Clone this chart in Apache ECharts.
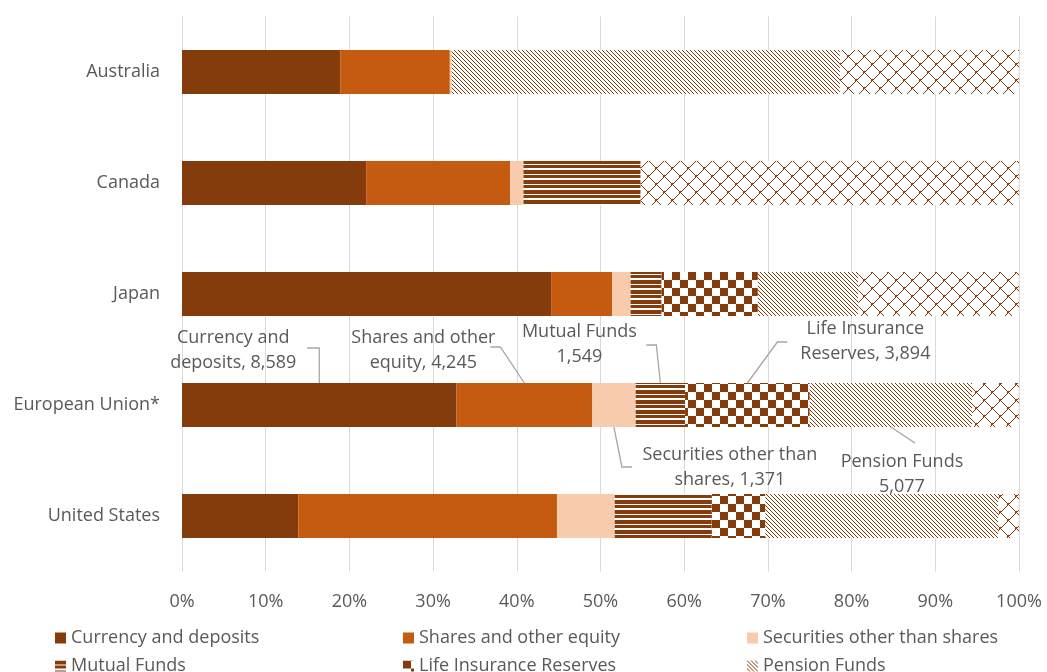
<!DOCTYPE html>
<html><head><meta charset="utf-8">
<script src="https://cdn.jsdelivr.net/npm/echarts@6/dist/echarts.min.js"></script>
<style>html,body{margin:0;padding:0;background:#fff}#c{width:1047px;height:672px}</style>
</head><body><div id="c"></div>
<script>
// ---- data (percent of each country's total household financial assets) ----
const categories = ['Australia', 'Canada', 'Japan', 'European Union*', 'United States'];
const seriesNames = ['Currency and deposits', 'Shares and other equity', 'Securities other than shares',
  'Mutual Funds', 'Life Insurance Reserves', 'Pension Funds', 'Other'];
const currency   = [18.9, 22.0, 44.1, 32.8, 13.9];
const shares     = [13.1, 17.2, 7.3, 16.2, 30.9];
const securities = [0.2, 1.6, 2.2, 5.2, 6.9];
const mutual     = [0, 14.0, 3.7, 5.9, 11.6];
const lifeIns    = [0, 0, 11.5, 14.9, 6.4];
const pension    = [46.4, 0, 12.0, 19.4, 27.8];
const other      = [21.4, 45.2, 19.2, 5.6, 2.5];
const xTicks = [0, 10, 20, 30, 40, 50, 60, 70, 80, 90, 100];
// labels for the European Union* bar (billions)
const euLabels = ['Currency and\ndeposits, 8,589', 'Shares and other\nequity, 4,245', 'Securities other than\nshares, 1,371',
  'Mutual Funds\n1,549', 'Life Insurance\nReserves, 3,894', 'Pension Funds\n5,077', ''];
const labelCategory = 'European Union*';

// ---- patterns ----
const BROWN = '#843C0C';
function tile(w, h, draw) {
  const c = document.createElement('canvas'); c.width = w; c.height = h;
  const g = c.getContext('2d'); g.fillStyle = '#fff'; g.fillRect(0, 0, w, h);
  g.fillStyle = BROWN; draw(g); return { image: c, repeat: 'repeat' };
}
const patMutual = tile(4, 10, g => { g.fillRect(0, 0, 4, 4); g.fillRect(0, 5, 4, 3); });
const patLife = tile(16, 16, g => { g.fillRect(0, 0, 8, 8); g.fillRect(8, 8, 8, 8); });
const patPension = tile(8, 8, g => {
  for (let i = 0; i < 8; i++) { g.fillRect(i, i, 1, 1); g.fillRect((i + 4) % 8, i, 1, 1); }
});
const patOther = tile(16, 16, g => {
  for (let x = 0; x < 16; x++) for (let y = 0; y < 16; y++) {
    if (Math.abs(x - 8) + Math.abs(y - 8) === 8) g.fillRect(x, y, 1, 1);
  }
  g.fillRect(0, 7, 1, 2); g.fillRect(15, 7, 1, 2); g.fillRect(7, 0, 2, 1); g.fillRect(7, 15, 2, 1);
});

const colors = ['#843C0C', '#C55A11', '#F8CBAD', patMutual, patLife, patPension, patOther];
const values = [currency, shares, securities, mutual, lifeIns, pension, other];

// label placement relative to the bar segment (anchor top 't' or bottom 'b'): label centre offset and leader line offsets
const labelCfg = [
  { side: 't', c: [-86, -33], pts: [[0, -35], [-12, -35]] },
  { side: 't', c: [-101, -33], pts: [[-24, -36], [-34, -36]] },
  { side: 'b', c: [116, 40], pts: [[8, 40], [18, 40]] },
  { side: 't', c: [-81, -39], pts: [[-4, -38], [-14, -38]] },
  { side: 't', c: [118, -42], pts: [[30, -41], [40, -41]] },
  { side: 'b', c: [11, 47], pts: [[24, 16]] },
  null
];
const BAR_W = 44;
const FONT = '"Open Sans", "Noto Sans", sans-serif';
const TXT = '#595959';
const euIdx = categories.indexOf(labelCategory);

const series = seriesNames.map((name, si) => ({
  name, type: 'bar', stack: 'total', barWidth: BAR_W,
  itemStyle: { color: colors[si] },
  emphasis: { disabled: true },
  data: values[si].map((v, di) => {
    const item = { value: v };
    if (di === euIdx && euLabels[si]) {
      item.label = { show: true, formatter: euLabels[si], fontFamily: FONT, fontSize: 18, lineHeight: 25, color: TXT, align: 'center' };
    }
    return item;
  }),
  labelLine: { show: false },
  labelLayout: function (p) {
    const cfg = labelCfg[si];
    if (!cfg || p.dataIndex !== euIdx) return {};
    const ax = p.rect.x + p.rect.width / 2;
    const ay = cfg.side === 't' ? p.rect.y : p.rect.y + p.rect.height;
    return { x: ax + cfg.c[0], y: ay + cfg.c[1], align: 'center', verticalAlign: 'middle' };
  }
}));

const legendBase = {
  orient: 'vertical', icon: 'rect', itemWidth: 11, itemHeight: 11, itemGap: 10, height: 120,
  textStyle: { fontFamily: FONT, fontSize: 18, color: TXT, lineHeight: 16 }, top: 624, selectedMode: false
};
const option = {
  animation: false,
  grid: { left: 182, right: 28, top: 16.5, height: 555, containLabel: false },
  xAxis: {
    type: 'value', min: 0, max: 100, interval: 10,
    axisLine: { show: false }, axisTick: { show: false },
    splitLine: { lineStyle: { color: '#d9d9d9', width: 1 } },
    axisLabel: { formatter: v => xTicks.includes(v) ? v + '%' : '', fontFamily: FONT, fontSize: 18, color: TXT, margin: 21 }
  },
  yAxis: {
    type: 'category', data: categories, inverse: true,
    axisLine: { show: true, lineStyle: { color: '#d9d9d9' } }, axisTick: { show: false },
    axisLabel: { fontFamily: FONT, fontSize: 18, color: TXT, margin: 22 }
  },
  legend: [
    Object.assign({}, legendBase, { left: 50, data: [seriesNames[0], seriesNames[3], seriesNames[6]] }),
    Object.assign({}, legendBase, { left: 398, data: [seriesNames[1], seriesNames[4]] }),
    Object.assign({}, legendBase, { left: 742, data: [seriesNames[2], seriesNames[5]] })
  ],
  series
};
const chart = echarts.init(document.getElementById('c'), null, { renderer: 'canvas' });
chart.setOption(option);

// leader lines for the European Union* labels, positioned from the axis scales
const yc = chart.convertToPixel({ yAxisIndex: 0 }, labelCategory);
const graphics = [];
let cumStart = 0;
values.forEach((arr, si) => {
  const v = arr[euIdx];
  const x0 = chart.convertToPixel({ xAxisIndex: 0 }, cumStart);
  const x1 = chart.convertToPixel({ xAxisIndex: 0 }, cumStart + v);
  cumStart += v;
  const cfg = labelCfg[si];
  if (!cfg) return;
  const ax = (x0 + x1) / 2;
  const ay = cfg.side === 't' ? yc - BAR_W / 2 : yc + BAR_W / 2;
  graphics.push({
    type: 'polyline', silent: true, z: 10,
    shape: { points: [[ax, ay]].concat(cfg.pts.map(q => [ax + q[0], ay + q[1]])) },
    style: { stroke: '#a6a6a6', lineWidth: 1.3, fill: null }
  });
});
chart.setOption({ graphic: graphics });
</script></body></html>
